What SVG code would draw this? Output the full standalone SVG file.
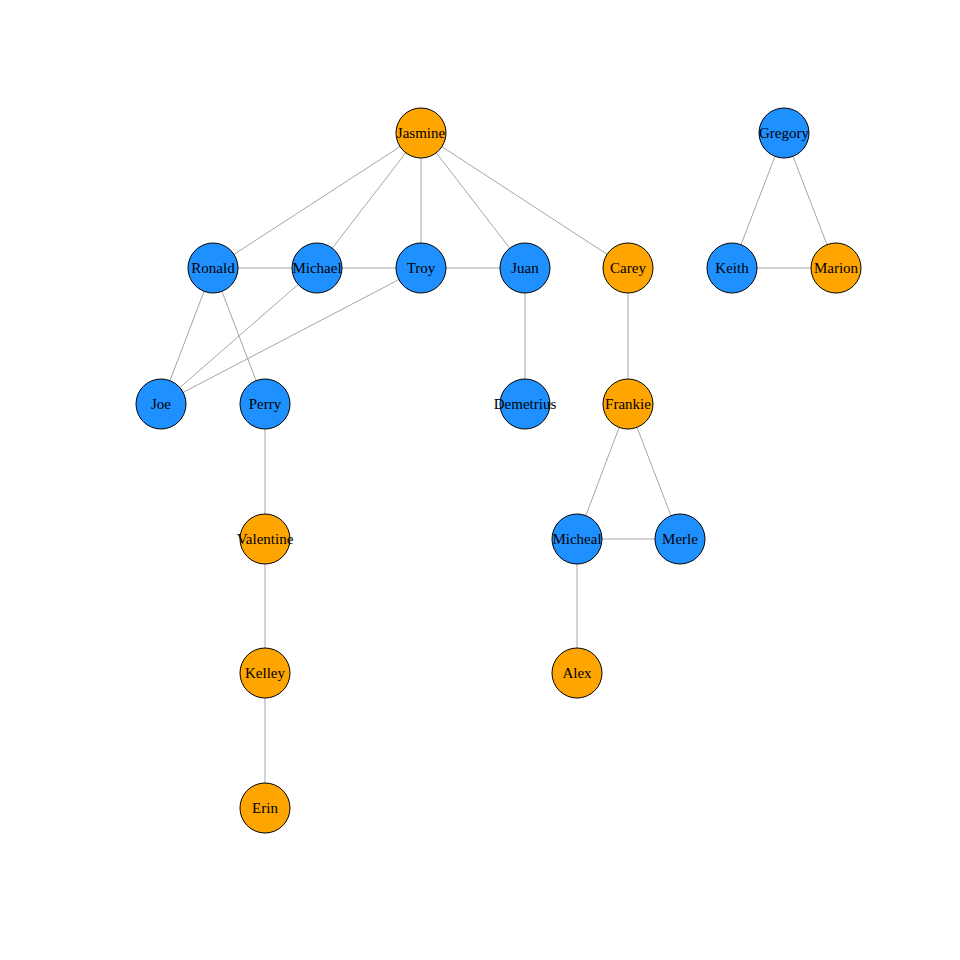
<svg xmlns="http://www.w3.org/2000/svg" width="960" height="960" viewBox="0 0 960 960">
<style>
.e{stroke:#a6a6a6;stroke-width:1;fill:none}
.n circle{stroke:#000;stroke-width:1}
.b circle{fill:#1e90ff}
.o circle{fill:#ffa500}
.n text{font-family:"Liberation Serif","Times New Roman",serif;font-size:15px;fill:#000;text-anchor:middle}
</style>
<rect width="960" height="960" fill="#fff"/>
<g id="edges">
<line class="e" x1="421" y1="133" x2="213" y2="268"/>
<line class="e" x1="421" y1="133" x2="317" y2="268"/>
<line class="e" x1="421" y1="133" x2="421" y2="268"/>
<line class="e" x1="421" y1="133" x2="525" y2="268"/>
<line class="e" x1="421" y1="133" x2="628" y2="268"/>
<line class="e" x1="213" y1="268" x2="317" y2="268"/>
<line class="e" x1="317" y1="268" x2="421" y2="268"/>
<line class="e" x1="421" y1="268" x2="525" y2="268"/>
<line class="e" x1="213" y1="268" x2="161" y2="404"/>
<line class="e" x1="213" y1="268" x2="265" y2="404"/>
<line class="e" x1="317" y1="268" x2="161" y2="404"/>
<line class="e" x1="421" y1="268" x2="161" y2="404"/>
<line class="e" x1="525" y1="268" x2="525" y2="404"/>
<line class="e" x1="628" y1="268" x2="628" y2="404"/>
<line class="e" x1="628" y1="404" x2="577" y2="539"/>
<line class="e" x1="628" y1="404" x2="680" y2="539"/>
<line class="e" x1="577" y1="539" x2="680" y2="539"/>
<line class="e" x1="577" y1="539" x2="577" y2="673"/>
<line class="e" x1="265" y1="404" x2="265" y2="539"/>
<line class="e" x1="265" y1="539" x2="265" y2="673"/>
<line class="e" x1="265" y1="673" x2="265" y2="808"/>
<line class="e" x1="784" y1="133" x2="732" y2="268"/>
<line class="e" x1="784" y1="133" x2="836" y2="268"/>
<line class="e" x1="732" y1="268" x2="836" y2="268"/>
</g>
<g id="Jasmine" class="n o"><circle cx="421" cy="133" r="25"/><text x="421" y="138">Jasmine</text></g>
<g id="Gregory" class="n b"><circle cx="784" cy="133" r="25"/><text x="784" y="138">Gregory</text></g>
<g id="Ronald" class="n b"><circle cx="213" cy="268" r="25"/><text x="213" y="273">Ronald</text></g>
<g id="Michael" class="n b"><circle cx="317" cy="268" r="25"/><text x="317" y="273">Michael</text></g>
<g id="Troy" class="n b"><circle cx="421" cy="268" r="25"/><text x="421" y="273">Troy</text></g>
<g id="Juan" class="n b"><circle cx="525" cy="268" r="25"/><text x="525" y="273">Juan</text></g>
<g id="Carey" class="n o"><circle cx="628" cy="268" r="25"/><text x="628" y="273">Carey</text></g>
<g id="Keith" class="n b"><circle cx="732" cy="268" r="25"/><text x="732" y="273">Keith</text></g>
<g id="Marion" class="n o"><circle cx="836" cy="268" r="25"/><text x="836" y="273">Marion</text></g>
<g id="Joe" class="n b"><circle cx="161" cy="404" r="25"/><text x="161" y="409">Joe</text></g>
<g id="Perry" class="n b"><circle cx="265" cy="404" r="25"/><text x="265" y="409">Perry</text></g>
<g id="Demetrius" class="n b"><circle cx="525" cy="404" r="25"/><text x="525" y="409">Demetrius</text></g>
<g id="Frankie" class="n o"><circle cx="628" cy="404" r="25"/><text x="628" y="409">Frankie</text></g>
<g id="Valentine" class="n o"><circle cx="265" cy="539" r="25"/><text x="265" y="544">Valentine</text></g>
<g id="Micheal" class="n b"><circle cx="577" cy="539" r="25"/><text x="577" y="544">Micheal</text></g>
<g id="Merle" class="n b"><circle cx="680" cy="539" r="25"/><text x="680" y="544">Merle</text></g>
<g id="Kelley" class="n o"><circle cx="265" cy="673" r="25"/><text x="265" y="678">Kelley</text></g>
<g id="Alex" class="n o"><circle cx="577" cy="673" r="25"/><text x="577" y="678">Alex</text></g>
<g id="Erin" class="n o"><circle cx="265" cy="808" r="25"/><text x="265" y="813">Erin</text></g>
</svg>
